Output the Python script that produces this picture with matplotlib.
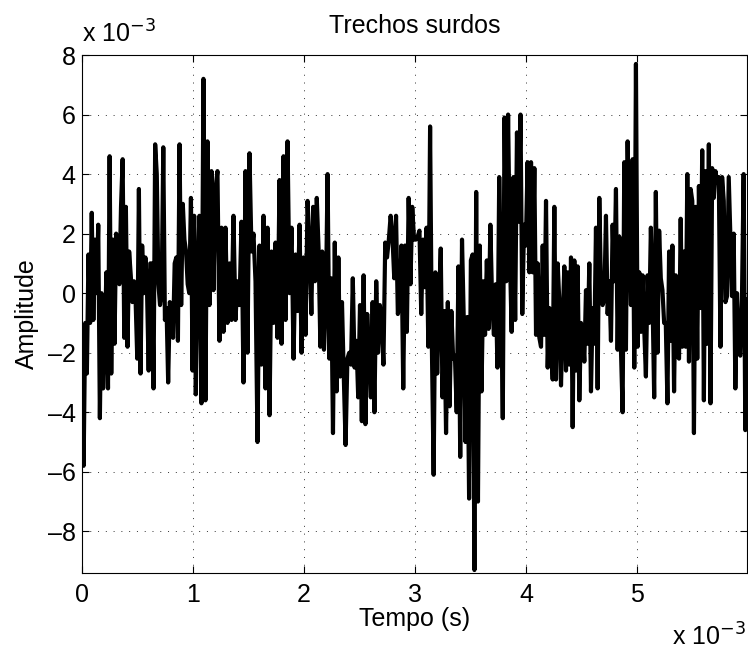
import numpy as np
import matplotlib
matplotlib.use("Agg")
import matplotlib.pyplot as plt
from matplotlib.ticker import FuncFormatter

# ------------------------------------------------------------
# Data (amplitude in units of 1e-3)
# one list per stretch of time, edges in ms

seg_edges_ms = [0.0, 1.04, 2.05, 3.04, 4.03, 5.02, 5.99]

amp_seg1 = [-1.1, -5.8, -1.0, -2.7, 1.3, -1.0, 2.7, -0.9, 1.8, 0.0, 2.3, -4.2, 0.0, -3.2,
            -1.6, 0.7, -3.2, 4.6, -2.7, 1.8, -1.7, 2.0, 1.6, 0.3, 2.9, 4.5, -1.5, 2.9,
            -1.8, 1.4, 0.6, -0.3, 0.4, -0.3, -2.2, 3.5, -2.7, 1.6, 0.0, 1.2, 0.1, -2.6,
            1.0, 1.0, -3.2, 5.0, 4.0, 0.3, -0.4, 0.0, 4.9, -0.9, -0.5, -3.0, -0.3, -0.5,
            -1.5, 1.0, 1.2, -1.6, 5.0, -0.4, 3.0, 1.8, 1.4, 0.3, 0.0, 3.2, -2.6, 2.6, -3.4]

amp_seg2 = [0.6, 2.6, -3.7, 7.2, -3.6, 5.1, -0.4, 4.1, 0.1, 3.5, 4.1, -1.6, 2.2, -1.3,
            2.2, -1.0, 1.0, -0.9, 2.6, -0.9, 0.4, -0.4, 2.4, -3.0, 4.1, -2.0, 4.7, 1.4,
            2.0, 0.4, -5.0, 1.6, -2.4, 2.6, -3.2, 2.2, -4.1, 1.4, -1.0, 1.7, -1.5, 3.8,
            -1.7, 4.6, -0.9, 5.1, 0.0, 2.2, -2.2, 1.3, -0.6, 2.3, -2.0, 1.2, -1.4, 3.1]

amp_seg3 = [1.5, -0.7, 2.9, 0.4, 3.2, 1.5, -1.8, 1.4, -1.9, -0.5, 4.0, -2.2, 0.5, -4.7,
            1.7, -3.3, 1.2, -2.8, -0.3, -2.8, -5.1, -2.2, -2.0, -2.4, 0.5, -2.5, -1.6,
            -3.5, -0.4, -4.3, 0.6, -4.4, -0.7, -2.0, -3.5, -0.3, -4.0, 0.4, -2.0, -0.4,
            -0.9, -2.4, 1.7, 1.2, 1.8, 2.6, 1.9, 0.5, 2.6, -0.7, -0.4, 1.6, -3.2, 1.6,
            -1.3, 3.2, 0.3, 2.9, 1.8, 1.8, 1.9]

amp_seg4 = [2.1, -0.7, 1.8, 0.2, 2.2, -1.8, 5.6, -1.8, -6.1, 0.7, -2.7, -0.4, 1.5, -3.5,
            -0.6, -4.7, -0.3, -3.8, -0.6, -2.2, -2.1, -4.0, 0.9, -5.5, 1.8, -0.9, -5.0,
            -0.8, -6.9, 1.1, 1.3, -9.3, 3.4, -7.0, 1.6, -3.3, 0.4, -1.4, 1.1, -1.2, 2.3,
            -0.3, -1.4, 0.3, -2.5, 3.9, 0.3, -4.2, 5.9, 0.4, 6.0, 1.3, -1.3, 3.9, -0.9,
            5.4, 2.4, 6.0, -0.7, 2.3, 1.6, 4.4]

amp_seg5 = [0.7, 4.4, 0.7, 4.2, -1.4, 1.0, -1.5, -1.8, 1.6, -1.4, 3.1, -2.5, -0.5, -1.4,
            -2.9, 2.9, -2.9, 1.0, -0.3, -3.1, -0.9, 0.9, -2.6, 0.7, -2.4, 1.2, -4.5, 1.1,
            -2.6, 0.9, -3.6, -1.0, -1.3, -2.3, 0.1, -1.7, 1.0, -3.3, -0.5, -1.7, 2.2,
            -3.2, 3.2, 0.2, -0.4, -0.2, 2.6, -0.7, 0.4, -1.6, 2.3, 0.4, 3.5, -1.9, 1.9,
            -1.9, -4.0, 4.4, -1.9, 5.1, 1.7, -0.4, 4.5, -2.5, 7.7, -1.8]

amp_seg6 = [0.7, -1.3, 0.6, -1.2, -2.8, 0.6, -1.0, 2.2, -0.2, -3.5, 3.4, -2.0, 2.1, 0.5,
            0.1, -1.0, -1.0, -3.7, 1.4, -1.6, 1.6, -3.3, 0.6, -2.1, -2.2, 2.5, -1.8, 1.4,
            -1.8, 4.0, -2.3, 3.5, 3.1, -4.7, 2.9, -2.2, 3.6, -0.5, 4.8, -3.6, 4.1, -1.7,
            5.0, -3.7, 4.2, 3.2, 4.1, 3.7, 3.9, -1.8, 3.9, 3.1, -0.3, -0.1, 3.9, 1.9,
            -0.1, 2.0, -3.2, 0.0, -2.0, -2.1, -0.1, 4.0, -4.6, -0.2]

segments = [amp_seg1, amp_seg2, amp_seg3, amp_seg4, amp_seg5, amp_seg6]

x_ticks = [0, 1, 2, 3, 4, 5]
y_ticks = [-8, -6, -4, -2, 0, 2, 4, 6, 8]

# ------------------------------------------------------------
# Build time axis

t = []
amp = []
for k, seg in enumerate(segments):
    last = k == len(segments) - 1
    t.extend(np.linspace(seg_edges_ms[k], seg_edges_ms[k + 1], len(seg), endpoint=last))
    amp.extend(seg)
t = np.array(t) * 1e-3
amp = np.array(amp) * 1e-3

# ------------------------------------------------------------
# Plot

plt.rcParams['font.family'] = ['Liberation Sans', 'DejaVu Sans']
fs = 18

fig = plt.figure(figsize=(7.48, 6.51), dpi=100)
ax = fig.add_axes([0.1096, 0.1198, 0.889, 0.7957])

ax.plot(t, amp, color='black', linewidth=3.0)

ax.set_xlim(0, seg_edges_ms[-1] * 1e-3)
ax.set_ylim(-9.4e-3, 8e-3)
ax.set_xticks([v * 1e-3 for v in x_ticks])
ax.set_yticks([v * 1e-3 for v in y_ticks])

fmt = FuncFormatter(lambda v, p: f"{v * 1e3:.0f}".replace("-", "\u2013"))
ax.xaxis.set_major_formatter(fmt)
ax.yaxis.set_major_formatter(fmt)

ax.tick_params(direction='in', top=True, right=True, labelsize=fs, length=5, width=0.8)
ax.tick_params(axis='x', pad=7)
ax.tick_params(axis='y', pad=4.5)
ax.grid(True, linestyle=(0, (1, 7)), color='0.2', linewidth=0.7)
for s in ax.spines.values():
    s.set_linewidth(0.8)

ax.set_title("Trechos surdos", fontsize=fs, pad=16)
ax.set_xlabel("Tempo (s)", fontsize=fs, labelpad=0.5)
ax.set_ylabel("Amplitude", fontsize=fs, labelpad=6.5)

fig.text(0.1096, 0.934, "x 10$^{-3}$", fontsize=fs, ha='left', va='baseline')
fig.text(0.997, 0.009, "x 10$^{-3}$", fontsize=fs, ha='right', va='baseline')

fig.savefig("out.png", dpi=100)
